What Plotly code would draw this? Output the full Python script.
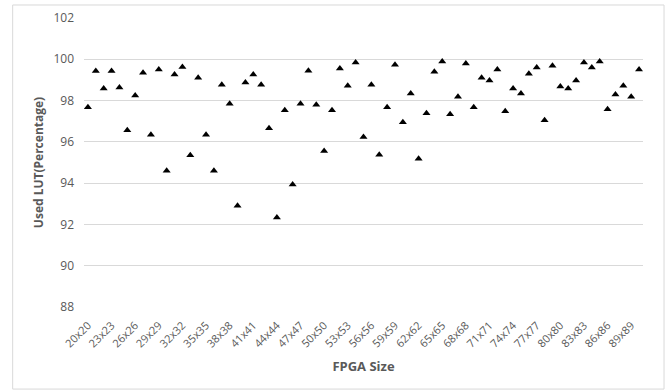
import plotly.graph_objects as go

sizes = [f"{n}x{n}" for n in range(20, 91)]
used_lut = [
    97.68, 99.43, 98.58, 99.43, 98.63, 96.56, 98.24, 99.35, 96.34, 99.50,
    94.60, 99.26, 99.63, 95.35, 99.11, 96.34, 94.60, 98.77, 97.85, 92.91,
    98.87, 99.26, 98.77, 96.66, 92.33, 97.53, 93.93, 97.85, 99.45, 97.80,
    95.56, 97.53, 99.55, 98.72, 99.84, 96.24, 98.77, 95.37, 97.68, 99.74,
    96.95, 98.34, 95.18, 97.39, 99.40, 99.89, 97.34, 98.19, 99.79, 97.68,
    99.11, 98.97, 99.50, 97.48, 98.58, 98.34, 99.30, 99.60, 97.05, 99.69,
    98.68, 98.58, 98.97, 99.84, 99.60, 99.89, 97.58, 98.29, 98.72, 98.19,
    99.50,
]
x_tick_labels = sizes[::3]
y_ticks = [88, 90, 92, 94, 96, 98, 100, 102]

FONT = "Open Sans, sans-serif"
GRAY = "#595959"

fig = go.Figure(
    go.Scatter(
        x=sizes,
        y=used_lut,
        mode="markers",
        marker=dict(symbol="triangle-up", size=7, color="black"),
    )
)

fig.update_layout(
    width=670,
    height=391,
    margin=dict(l=84, r=27, t=18, b=84),
    paper_bgcolor="white",
    plot_bgcolor="white",
    showlegend=False,
    font=dict(family=FONT, color=GRAY, size=11),
    shapes=[
        dict(
            type="rect", xref="paper", yref="paper",
            x0=-0.1276, x1=1.0376, y0=-0.284, y1=1.045,
            line=dict(color="#d9d9d9", width=1), fillcolor="rgba(0,0,0,0)",
            layer="below",
        )
    ],
)

fig.update_xaxes(
    type="category",
    categoryorder="array",
    categoryarray=sizes,
    range=[-0.5, len(sizes) - 0.5],
    tickmode="array",
    tickvals=x_tick_labels,
    ticktext=x_tick_labels,
    tickangle=-45,
    tickfont=dict(size=11, color=GRAY, family=FONT),
    ticklabelstandoff=9,
    showgrid=False,
    showline=False,
    ticks="",
    automargin=False,
    title=dict(text="<b>FPGA Size</b>", font=dict(size=13, color=GRAY, family=FONT), standoff=12),
)

fig.update_yaxes(
    range=[88, 102],
    tickmode="array",
    tickvals=y_ticks,
    gridcolor="#d9d9d9",
    gridwidth=1,
    zeroline=False,
    showline=False,
    ticks="",
    ticklabelstandoff=9,
    automargin=False,
    tickfont=dict(size=12, color=GRAY, family=FONT),
    title=dict(text="<b>Used LUT(Percentage)</b>", font=dict(size=12, color=GRAY, family=FONT), standoff=7),
)

fig.write_html(
    "out.html",
    config={"displayModeBar": False},
    post_script="document.body.style.margin='0';",
)
